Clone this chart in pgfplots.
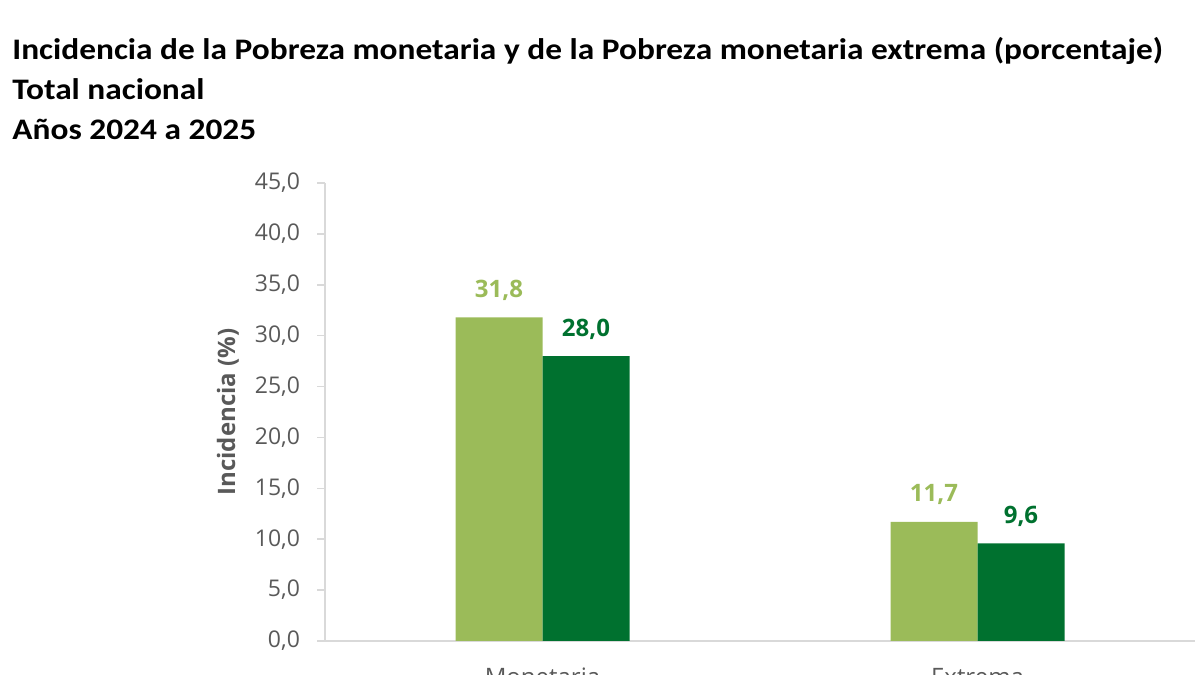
\documentclass[border=0pt]{standalone}
\usepackage{fontspec}
\setmainfont{Open Sans}
\newfontfamily\titlefont[FakeStretch=1.12]{Carlito}
\usepackage{pgfplots}
\pgfplotsset{compat=1.18}
\definecolor{lg}{HTML}{9BBB59}
\definecolor{dg}{HTML}{00712F}
\definecolor{tg}{HTML}{595959}
\definecolor{axc}{HTML}{D9D9D9}
\begin{document}
\begin{tikzpicture}
\useasboundingbox (0,0) rectangle (600pt,337.5pt);
\clip (0,0) rectangle (600pt,337.5pt);
\node[anchor=base west, inner sep=0pt, font=\titlefont\bfseries\fontsize{14.9}{17}\selectfont] at (6pt,307.5pt) {Incidencia de la Pobreza monetaria y de la Pobreza monetaria extrema (porcentaje)};
\node[anchor=base west, inner sep=0pt, font=\titlefont\bfseries\fontsize{14.9}{17}\selectfont] at (6pt,287.5pt) {Total nacional};
\node[anchor=base west, inner sep=0pt, font=\titlefont\bfseries\fontsize{14.9}{17}\selectfont] at (6pt,267.5pt) {Años 2024 a 2025};
\begin{axis}[
  at={(162.5pt,17pt)}, anchor=south west,
  scale only axis, width=435pt, height=229pt,
  xmin=-0.5, xmax=1.5, ymin=0, ymax=45,
  ytick={0,5,...,45},
  xtick={0,1}, xticklabels={Monetaria,Extrema},
  axis x line=bottom, axis y line=left,
  axis line style={draw=axc, line width=1pt, -},
  x tick style={draw=none},
  y tick style={draw=axc, line width=0.8pt},
  tick align=outside, major tick length=4pt,
  /pgf/number format/.cd, fixed, fixed zerofill, precision=1, use comma, assume math mode=true,
  /pgfplots/.cd,
  yticklabel style={font=\fontsize{11.5}{13}\selectfont, text=tg, xshift=-5pt},
  xticklabel style={font=\fontsize{12}{14}\selectfont, text=tg, anchor=north, yshift=-6pt},
  ylabel={Incidencia (\%)},
  ylabel style={at={(axis description cs:0,0.5)}, yshift=48.5pt, anchor=center, font=\bfseries\fontsize{12}{14}\selectfont, text=tg},
  ybar=0pt, bar width=43.5pt,
  nodes near coords,
  nodes near coords style={anchor=center, yshift=13.5pt, font=\bfseries\fontsize{12}{14}\selectfont},
]
\addplot[fill=lg, draw=none, nodes near coords style={text=lg}] coordinates {(0,31.8) (1,11.7)};
\addplot[fill=dg, draw=none, nodes near coords style={text=dg}] coordinates {(0,28.0) (1,9.6)};
\end{axis}
\end{tikzpicture}
\end{document}
